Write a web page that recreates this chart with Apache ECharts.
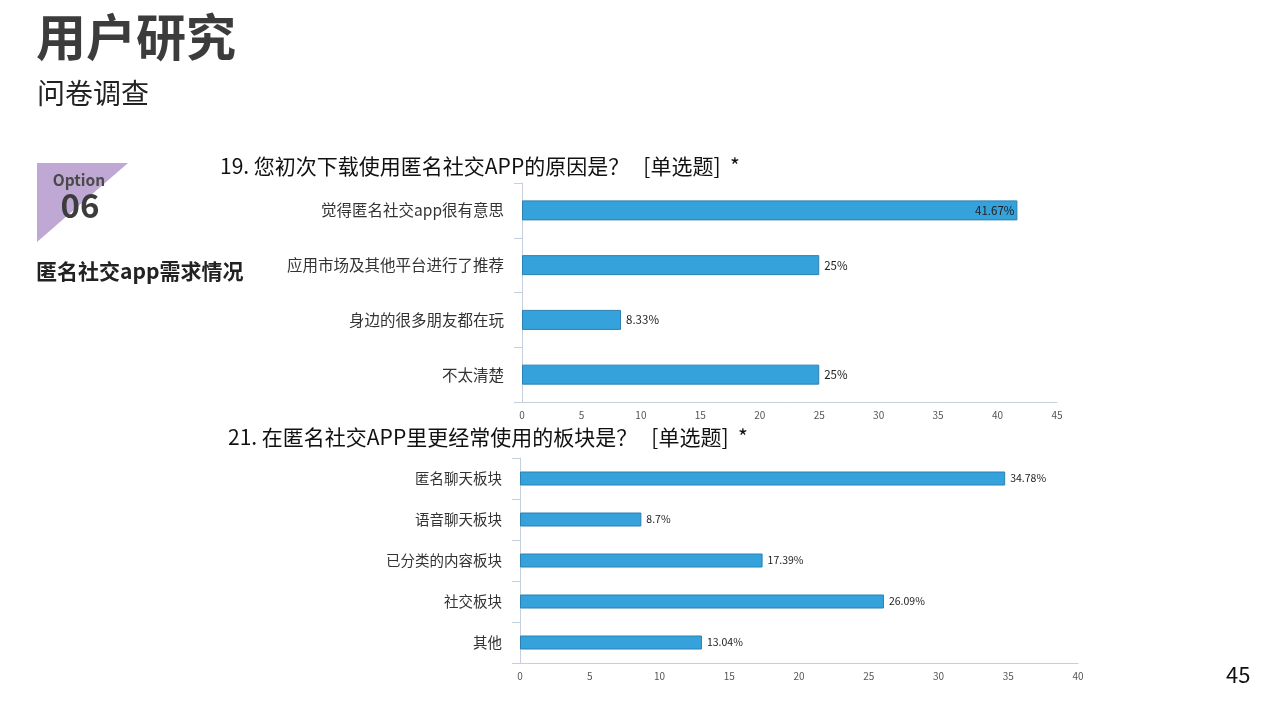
<!DOCTYPE html>
<html><head><meta charset="utf-8">
<script src="https://cdn.jsdelivr.net/npm/echarts@6/dist/echarts.min.js"></script>
<style>html,body{margin:0;padding:0;background:#fff}#c{width:1280px;height:720px}</style>
</head><body><div id="c"></div>
<script>
const cats1 = ['觉得匿名社交app很有意思','应用市场及其他平台进行了推荐','身边的很多朋友都在玩','不太清楚'];
const vals1 = [41.67, 25, 8.33, 25];
const cats2 = ['匿名聊天板块','语音聊天板块','已分类的内容板块','社交板块','其他'];
const vals2 = [34.78, 8.7, 17.39, 26.09, 13.04];
const title1 = '19. 您初次下载使用匿名社交APP的原因是？   [单选题]  *';
const title2 = '21. 在匿名社交APP里更经常使用的板块是？   [单选题]  *';

const F = '"Microsoft YaHei","Noto Sans CJK SC","Open Sans",sans-serif';
const chart = echarts.init(document.getElementById('c'));
const axisLine = {lineStyle:{color:'#c6cfdc',width:1}};
function yAx(idx, cats, fs){
  return {type:'category', gridIndex:idx, data:cats, inverse:true,
    axisLine:axisLine, axisTick:{show:true,length:8,lineStyle:{color:'#c6cfdc'}},
    axisLabel:{color:'#333', fontSize:fs, fontFamily:F, margin:18}, splitLine:{show:false}};
}
function xAx(idx, max){
  return {type:'value', gridIndex:idx, min:0, max:max, interval:5,
    axisLine:{show:true,lineStyle:{color:'#c6cfdc'}}, axisTick:{show:false},
    axisLabel:{color:'#555', fontSize:10, fontFamily:F, margin:8}, splitLine:{show:false}};
}
function barSeries(idx, vals, bw, insideFirst){
  return {type:'bar', xAxisIndex:idx, yAxisIndex:idx, barWidth:bw,
    data: vals.map((v,i)=>({value:v, label: (insideFirst && i===0) ? {position:'insideRight', distance:3, color:'#222'} : undefined})),
    itemStyle:{color:'#36a2db', borderColor:'#2b80b3', borderWidth:1},
    label:{show:true, position:'right', distance:5, color:'#222', fontSize: idx===0?11.5:10.5, fontFamily:F,
      formatter: p => p.value + '%'}};
}
chart.setOption({
  animation:false,
  grid:[
    {left:522, right:223, top:183, height:219},
    {left:520, right:202, top:458, height:205}
  ],
  xAxis:[xAx(0,45), xAx(1,40)],
  yAxis:[yAx(0,cats1,15.5), yAx(1,cats2,14.5)],
  series:[barSeries(0,vals1,20,true), barSeries(1,vals2,14,false)],
  graphic:[
    {type:'text', left:36, top:12, style:{text:'用户研究', font:'bold 50px '+F, fill:'#3c3c3c'}},
    {type:'text', left:37, top:79, style:{text:'问卷调查', font:'28px '+F, fill:'#222'}},
    {type:'polygon', shape:{points:[[37,163],[128,163],[37,242]]}, style:{fill:'#bfa9d4'}},
    {type:'text', x:79, y:180, style:{text:'Option', font:'bold 15.5px '+F, fill:'#4a4a4a', align:'center', verticalAlign:'middle'}},
    {type:'text', x:80, y:205, style:{text:'06', font:'bold 33px '+F, fill:'#3c3c3c', align:'center', verticalAlign:'middle'}},
    {type:'text', left:36, top:261, style:{text:'匿名社交app需求情况', font:'bold 21px '+F, fill:'#222'}},
    {type:'text', left:220, top:156, style:{text:title1, font:'21px '+F, fill:'#111'}},
    {type:'text', left:228, top:427, style:{text:title2, font:'21px '+F, fill:'#111'}},
    {type:'text', left:1226, top:664, style:{text:'45', font:'22px '+F, fill:'#111'}}
  ]
});
</script></body></html>
